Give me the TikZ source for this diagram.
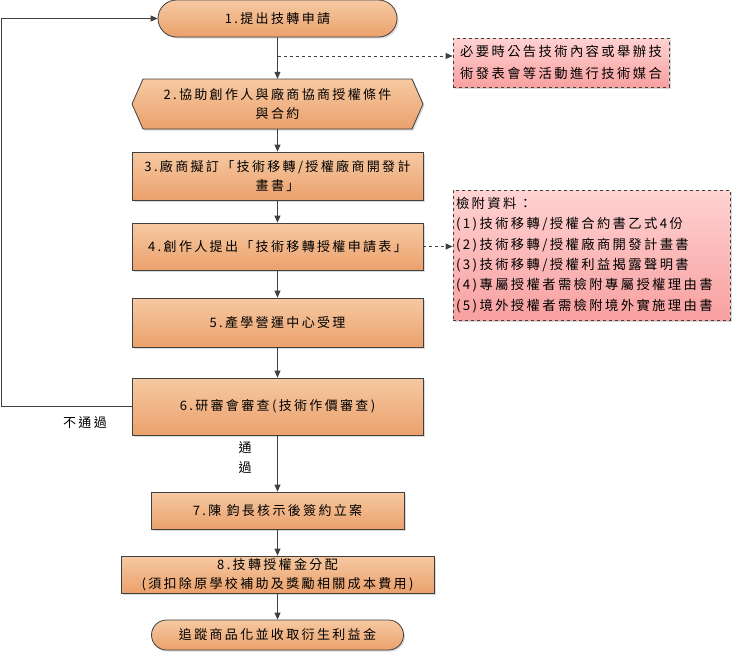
\documentclass[tikz,border=0pt]{standalone}
\usepackage{fontspec}
\newfontfamily\cjk{Noto Sans CJK TC}[LetterSpace=18]
\usetikzlibrary{arrows.meta,shadows,shapes.misc}
\definecolor{linec}{HTML}{404040}
\definecolor{otop}{HTML}{F6C9A2}
\definecolor{obot}{HTML}{EBA16C}
\definecolor{ptop}{HTML}{FFD2D2}
\definecolor{pbot}{HTML}{F8A0A0}
\tikzset{
  shade/.style={draw=linec, line width=0.8pt, top color=otop, bottom color=obot,
    drop shadow={shadow xshift=1.5pt,shadow yshift=-1.5pt,opacity=0.3}},
  txt/.style={inner sep=0pt, align=center, font=\cjk\fontsize{13}{19}\selectfont},
  obox/.style={shade, txt},
  nbox/.style={draw=linec, dashed, line width=0.8pt, top color=ptop, bottom color=pbot,
    drop shadow={shadow xshift=1.5pt,shadow yshift=-1.5pt,opacity=0.3},
    inner sep=3pt, align=left, font=\cjk\fontsize{13.3}{20.3}\selectfont},
  conn/.style={draw=linec, line width=0.8pt, -{Triangle[length=7pt,width=6pt]}},
  dconn/.style={conn, dashed},
  lbl/.style={font=\cjk\fontsize{13}{19}\selectfont, inner sep=0pt, align=center}
}
\begin{document}
\begin{tikzpicture}[x=1pt,y=-1pt]
\useasboundingbox (0,0) rectangle (733,653);
% main flow
\node[obox, rounded rectangle, minimum width=239pt, minimum height=37pt] (n1) at (277.5,18.5) {1.提出技轉申請};
\path[shade] (143,79) -- (412,79) -- (423,104) -- (412,129) -- (143,129) -- (132,104) -- cycle;
\node[txt, minimum width=291pt, minimum height=50pt] (n2) at (277.5,104) {2.協助創作人與廠商協商授權條件\\與合約};
\node[obox, minimum width=291pt, minimum height=48pt] (n3) at (277.5,176) {3.廠商擬訂「技術移轉/授權廠商開發計\\畫書」};
\node[obox, minimum width=291pt, minimum height=47pt] (n4) at (277.5,246.5) {4.創作人提出「技術移轉授權申請表」};
\node[obox, minimum width=291pt, minimum height=49pt] (n5) at (277.5,322.5) {5.產學營運中心受理};
\node[obox, minimum width=291pt, minimum height=57pt] (n6) at (277.5,406.5) {6.研審會審查(技術作價審查)};
\node[obox, minimum width=253pt, minimum height=37pt] (n7) at (277.5,510.5) {7.陳 鈞長核示後簽約立案};
\node[obox, minimum width=313pt, minimum height=37pt] (n8) at (277.5,574.5) {8.技轉授權金分配\\(須扣除原學校補助及獎勵相關成本費用)};
\node[obox, rounded rectangle, minimum width=252pt, minimum height=30pt] (n9) at (277.5,635) {追蹤商品化並收取衍生利益金};
% notes
\node[nbox, minimum width=216pt, minimum height=49pt, font=\cjk\fontsize{13.3}{22}\selectfont] (m1) at (561,62.5) {必要時公告技術內容或舉辦技\\術發表會等活動進行技術媒合};
\node[nbox, text width=271pt, minimum height=130pt] (m2) at (591.5,255) {檢附資料：\\(1)技術移轉/授權合約書乙式4份\\(2)技術移轉/授權廠商開發計畫書\\(3)技術移轉/授權利益揭露聲明書\\(4)專屬授權者需檢附專屬授權理由書\\(5)境外授權者需檢附境外實施理由書};
% connectors
\draw[conn] (n1) -- (n2);
\draw[conn] (n2) -- (n3);
\draw[conn] (n3) -- (n4);
\draw[conn] (n4) -- (n5);
\draw[conn] (n5) -- (n6);
\draw[conn] (n6) -- (n7);
\draw[conn] (n7) -- (n8);
\draw[conn] (n8) -- (n9);
\coordinate (c1) at (277.5,56);
\draw[dconn] (c1) -- (c1 -| m1.west);
\draw[dconn] (n4.east) -- (n4.east -| m2.west);
\coordinate (f1) at (1.5,406.5);
\coordinate (f2) at (1.5,18.5);
\draw[conn] (n6.west) -- (f1) -- (f2) -- (n1.west);
% labels
\node[lbl] (l1) at (85,423) {不通過};
\node[lbl, font=\cjk\fontsize{13}{20}\selectfont] (l2) at (245,458) {通\\過};
\end{tikzpicture}
\end{document}
